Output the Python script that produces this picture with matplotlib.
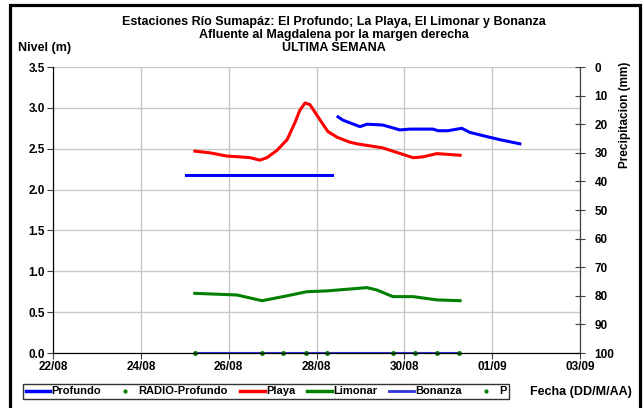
import matplotlib
matplotlib.use("Agg")
import matplotlib.pyplot as plt
from matplotlib.patches import Rectangle
from matplotlib.lines import Line2D
import numpy as np
from datetime import datetime, timedelta

plt.rcParams['font.family'] = ['Liberation Sans', 'DejaVu Sans']
plt.rcParams['font.weight'] = 'bold'

base = datetime(2012, 8, 22)
def d(x):
    return [base + timedelta(days=v - 22) for v in x]

# Profundo (two segments)
prof1_days = [25.03, 25.6, 26.5, 27.3, 27.9, 28.35]
prof1_vals = [2.18, 2.18, 2.18, 2.18, 2.18, 2.18]
prof2_days = [28.49, 28.60, 28.99, 29.15, 29.51, 29.90, 30.13, 30.65, 30.77, 30.99, 31.31, 31.49, 31.79, 32.18, 32.63]
prof2_vals = [2.89, 2.85, 2.77, 2.80, 2.79, 2.73, 2.74, 2.74, 2.72, 2.72, 2.75, 2.70, 2.66, 2.61, 2.56]

playa_days = [25.23, 25.57, 25.96, 26.26, 26.49, 26.71, 26.87, 27.10, 27.33, 27.51, 27.62, 27.74, 27.85,
              28.01, 28.12, 28.26, 28.47, 28.76, 28.92, 29.51, 29.74, 30.20, 30.42, 30.74, 31.27]
playa_vals = [2.47, 2.45, 2.41, 2.40, 2.39, 2.36, 2.39, 2.48, 2.61, 2.82, 2.97, 3.06, 3.04,
              2.91, 2.82, 2.71, 2.64, 2.58, 2.56, 2.51, 2.47, 2.39, 2.40, 2.44, 2.42]

limonar_days = [25.23, 26.19, 26.76, 27.24, 27.78, 28.24, 29.15, 29.38, 29.74, 30.20, 30.74, 31.27]
limonar_vals = [0.73, 0.71, 0.64, 0.69, 0.75, 0.76, 0.80, 0.77, 0.69, 0.69, 0.65, 0.64]

bonanza_days = [25.23, 31.27]
bonanza_vals = [0.0, 0.0]

p_days = [25.23, 26.76, 27.24, 27.76, 28.24, 29.74, 30.24, 30.74, 31.24]
p_vals = [0, 0, 0, 0, 0, 0, 0, 0, 0]

x_ticks = [22, 24, 26, 28, 30, 32, 34]
x_labels = ['22/08', '24/08', '26/08', '28/08', '30/08', '01/09', '03/09']

BLUE = '#0000ff'
BON = '#3333dd'
RED = '#ff0000'
GREEN = '#008000'
SP = '#404040'

fig = plt.figure(figsize=(6.43, 4.08), dpi=100)
ax = fig.add_axes([53/643, 1-353/408, 527/643, 286/408])

ax.plot(d(bonanza_days), bonanza_vals, color=BON, lw=1.5, zorder=2, clip_on=False)
ax.plot(d(prof1_days), prof1_vals, color=BLUE, lw=2.2, zorder=3)
ax.plot(d(prof2_days), prof2_vals, color=BLUE, lw=2.2, zorder=3)
ax.plot(d(playa_days), playa_vals, color=RED, lw=2.2, zorder=3, solid_joinstyle='round')
ax.plot(d(limonar_days), limonar_vals, color=GREEN, lw=2.2, zorder=3, solid_joinstyle='round')
ax.plot(d(p_days), p_vals, 'o', color=GREEN, ms=2.5, zorder=4, clip_on=False)

ax.set_xlim(base, base + timedelta(days=12))
ax.set_ylim(0, 3.5)
yt = np.arange(0, 3.51, 0.5)
ax.set_yticks(yt)
ax.set_yticklabels([f'{v:.1f}' for v in yt])
ax.set_xticks(d(x_ticks))
ax.set_xticklabels(x_labels)
ax.grid(True, color='#c8c8c8', lw=1)
ax.set_axisbelow(True)
ax.spines['top'].set_visible(False)
for s in ['left', 'bottom', 'right']:
    ax.spines[s].set_color(SP)
ax.tick_params(axis='both', labelsize=8.5, color=SP, length=4, direction='out', pad=2)
for t in ax.get_xticklabels() + ax.get_yticklabels():
    t.set_fontweight('bold')

ax2 = ax.twinx()
ax2.set_ylim(100, 0)
ax2.set_yticks(np.arange(0, 101, 10))
ax2.tick_params(axis='y', labelsize=8.5, color=SP, length=7, direction='inout', pad=7)
ax2.spines['top'].set_visible(False)
ax2.spines['right'].set_color(SP)
for t in ax2.get_yticklabels():
    t.set_fontweight('bold')

fig.text(625/643, 1-115/408, 'Precipitacion (mm)', rotation=90, ha='center', va='center',
         fontsize=8.5, fontweight='bold')

fig.text(0.519, 1-22/408, 'Estaciones Río Sumapáz: El Profundo; La Playa, El Limonar y Bonanza',
         ha='center', va='center', fontsize=9, fontweight='bold')
fig.text(0.519, 1-35/408, 'Afluente al Magdalena por la margen derecha',
         ha='center', va='center', fontsize=9, fontweight='bold')
fig.text(0.519, 1-48/408, 'ULTIMA SEMANA', ha='center', va='center', fontsize=9, fontweight='bold')
fig.text(18/643, 1-48/408, 'Nivel (m)', ha='left', va='center', fontsize=9, fontweight='bold')
fig.text(632/643, 1-392/408, 'Fecha (DD/M/AA)', ha='right', va='center', fontsize=9, fontweight='bold')

handles = [
    Line2D([], [], color=BLUE, lw=2.5),
    Line2D([], [], color=GREEN, marker='o', ls='none', ms=2),
    Line2D([], [], color=RED, lw=2.5),
    Line2D([], [], color=GREEN, lw=2.5),
    Line2D([], [], color=BON, lw=2),
    Line2D([], [], color=GREEN, marker='o', ls='none', ms=2),
]
labels = ['Profundo', 'RADIO-Profundo', 'Playa', 'Limonar', 'Bonanza', 'P']
leg = fig.legend(handles, labels, loc='center left', bbox_to_anchor=(23/643, 1-391.5/408), ncol=6,
                 frameon=True, fancybox=False, edgecolor='black',
                 handlelength=2.2, handletextpad=0.1, columnspacing=1.1, borderpad=0.25,
                 borderaxespad=0, prop={'weight': 'bold', 'size': 8})
leg.get_frame().set_linewidth(1)

fig.patches.append(Rectangle((10/643, -0.02), 630/643, 1.02 - 5/408, transform=fig.transFigure,
                             fill=False, edgecolor='black', lw=2.3))

fig.savefig('out.png', dpi=100)
